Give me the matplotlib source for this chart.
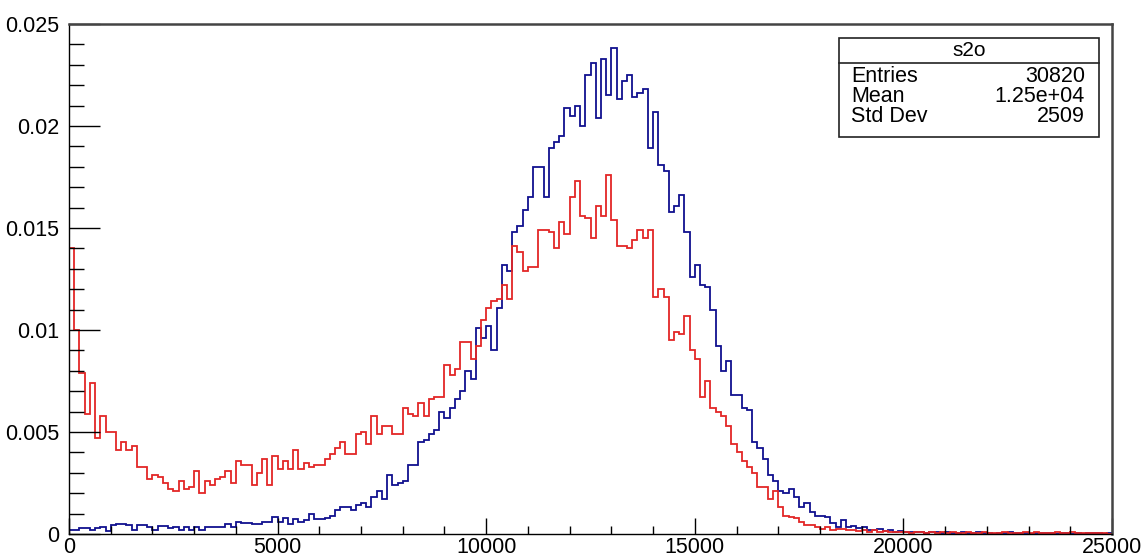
import numpy as np
import matplotlib
matplotlib.use("Agg")
import matplotlib.pyplot as plt
from matplotlib.ticker import MultipleLocator, FixedLocator

plt.rcParams['font.family'] = ['Liberation Sans', 'DejaVu Sans']

# ---- data ----
x_min, x_max, n_bins = 0, 25000, 200

red_values = [
    0.0140, 0.0100, 0.0079, 0.0059, 0.0074, 0.0047, 0.0058, 0.0050, 0.0050, 0.0041,
    0.0045, 0.0041, 0.0043, 0.0033, 0.0033, 0.0027, 0.0029, 0.0028, 0.0025, 0.0022,
    0.0021, 0.0026, 0.0022, 0.0023, 0.0031, 0.0020, 0.0026, 0.0024, 0.0027, 0.0028,
    0.0031, 0.0025, 0.0036, 0.0034, 0.0034, 0.0024, 0.0030, 0.0037, 0.0024, 0.0038,
    0.0032, 0.0036, 0.0032, 0.0041, 0.0032, 0.0035, 0.0033, 0.0034, 0.0034, 0.0037,
    0.0039, 0.0042, 0.0045, 0.0039, 0.0039, 0.0049, 0.0050, 0.0044, 0.0058, 0.0049,
    0.0053, 0.0053, 0.0049, 0.0049, 0.0062, 0.0059, 0.0058, 0.0064, 0.0058, 0.0066,
    0.0067, 0.0067, 0.0083, 0.0078, 0.0081, 0.0094, 0.0094, 0.0086, 0.0092, 0.0105,
    0.0111, 0.0114, 0.0115, 0.0122, 0.0115, 0.0141, 0.0138, 0.0129, 0.0131, 0.0131,
    0.0149, 0.0149, 0.0148, 0.0140, 0.0153, 0.0147, 0.0165, 0.0173, 0.0156, 0.0155,
    0.0145, 0.0161, 0.0156, 0.0176, 0.0154, 0.0141, 0.0141, 0.0140, 0.0144, 0.0149,
    0.0145, 0.0149, 0.0116, 0.0120, 0.0116, 0.0095, 0.0099, 0.0098, 0.0107, 0.0090,
    0.0086, 0.0067, 0.0075, 0.0062, 0.0060, 0.0058, 0.0053, 0.0044, 0.0040, 0.0036,
    0.0033, 0.0030, 0.0023, 0.0023, 0.0017, 0.0021, 0.0013, 0.0009, 0.00085, 0.00077,
    0.0006, 0.00044, 0.00044, 0.00036, 0.00023, 0.00033, 0.0002, 0.00023, 0.00023, 0.0002,
    0.0002, 0.00015, 0.0002, 0.00012, 0.00018, 0.0001, 0.00014, 0.0001, 0.00008, 0.00012,
    0.0001, 0.00006, 0.00008, 0.00012, 0.00006, 0.0001, 0.00004, 0.00008, 0.00006, 0.0001,
    0.00004, 0.00006, 0.00008, 0.00004, 0.00006, 0.00012, 0.00006, 0.00004, 0.00006, 0.00008,
    0.00004, 0.00006, 0.00004, 0.00008, 0.00006, 0.0001, 0.00004, 0.00006, 0.00004, 0.00008,
    0.00006, 0.00004, 0.0001, 0.00006, 0.00004, 0.00006, 0.00004, 0.00006, 0.00004, 0.00002,
]

blue_values = [
    0.0002, 0.0002, 0.00028, 0.00028, 0.0002, 0.00028, 0.00036, 0.00015, 0.00044, 0.00049,
    0.00049, 0.00044, 0.0002, 0.00044, 0.00044, 0.00036, 0.0002, 0.0004, 0.0004, 0.00028,
    0.00036, 0.0002, 0.00032, 0.0002, 0.00032, 0.00018, 0.00032, 0.00032, 0.00032, 0.00032,
    0.00049, 0.00036, 0.0006, 0.00052, 0.00052, 0.00049, 0.00049, 0.0006, 0.0006, 0.00085,
    0.0006, 0.00078, 0.0005, 0.00074, 0.0006, 0.00069, 0.00098, 0.00072, 0.00072, 0.0008,
    0.00088, 0.0012, 0.0013, 0.0013, 0.0012, 0.0014, 0.0015, 0.0013, 0.0018, 0.0021,
    0.0017, 0.0029, 0.0024, 0.0025, 0.0026, 0.0034, 0.0034, 0.0045, 0.0046, 0.0049,
    0.0051, 0.0060, 0.0057, 0.0062, 0.0066, 0.0070, 0.0080, 0.0076, 0.0101, 0.0096,
    0.0102, 0.0090, 0.0111, 0.0132, 0.0129, 0.0148, 0.0151, 0.0159, 0.0165, 0.0180,
    0.0180, 0.0165, 0.0189, 0.0192, 0.0195, 0.0209, 0.0205, 0.0210, 0.0200, 0.0225,
    0.0231, 0.0204, 0.0233, 0.0215, 0.0238, 0.0213, 0.0222, 0.0225, 0.0214, 0.0216,
    0.0218, 0.0189, 0.0207, 0.0181, 0.0178, 0.0158, 0.0161, 0.0166, 0.0148, 0.0126,
    0.0132, 0.0122, 0.0121, 0.0110, 0.0092, 0.0080, 0.0085, 0.0068, 0.0068, 0.0062,
    0.0061, 0.0045, 0.0042, 0.0037, 0.0029, 0.0026, 0.0021, 0.0020, 0.0022, 0.0018,
    0.0013, 0.0015, 0.0011, 0.0009, 0.0009, 0.00085, 0.00055, 0.00036, 0.0007, 0.00036,
    0.0004, 0.0003, 0.00035, 0.0002, 0.0002, 0.00025, 0.00015, 0.0002, 0.0001, 0.00015,
    0.0001, 0.00012, 0.00008, 0.0001, 0.00006, 0.00012, 0.00008, 0.00006, 0.0001, 0.00004,
    0.00006, 0.00008, 0.00004, 0.00006, 0.00008, 0.00004, 0.00006, 0.00002, 0.00006, 0.00004,
    0.00008, 0.00004, 0.00006, 0.00004, 0.00002, 0.00006, 0.00004, 0.00004, 0.00006, 0.00002,
    0.00004, 0.00006, 0.00002, 0.00004, 0.00002, 0.00004, 0.00006, 0.00004, 0.00002, 0.00004,
]

xtick_values = [0, 5000, 10000, 15000, 20000, 25000]
xtick_labels = ["0", "5000", "10000", "15000", "20000", "25000"]
ytick_values = [0, 0.005, 0.01, 0.015, 0.02, 0.025]
ytick_labels = ["0", "0.005", "0.01", "0.015", "0.02", "0.025"]

stats_title = "s2o"
stats_names = ["Entries", "Mean", "Std Dev"]
stats_vals = ["30820", "1.25e+04", "2509"]

# ---- figure ----
W, H = 1142, 556
PT = 0.72  # points per pixel at dpi 100
fig = plt.figure(figsize=(W / 100, H / 100), dpi=100)
ax = fig.add_axes([69 / W, (H - 534) / H, (1112 - 69) / W, (534 - 24) / H])

edges = np.linspace(x_min, x_max, n_bins + 1)
ax.stairs(blue_values, edges, color='#10108f', lw=1.3, baseline=None)
ax.stairs(red_values, edges, color='#e32626', lw=1.3, baseline=None)

ax.set_xlim(x_min, x_max)
ax.set_ylim(0, 0.025)

ax.xaxis.set_major_locator(FixedLocator(xtick_values))
ax.set_xticklabels(xtick_labels)
ax.xaxis.set_minor_locator(MultipleLocator(1000))
ax.yaxis.set_major_locator(FixedLocator(ytick_values))
ax.set_yticklabels(ytick_labels)
ax.yaxis.set_minor_locator(MultipleLocator(0.001))

ax.tick_params(axis='x', which='major', direction='in', length=16 * PT, width=1,
               labelsize=15.5, pad=2, top=False)
ax.tick_params(axis='x', which='minor', direction='in', length=8 * PT, width=1, top=False)
ax.tick_params(axis='y', which='major', direction='in', length=31 * PT, width=1,
               labelsize=15.5, pad=7, right=False)
ax.tick_params(axis='y', which='minor', direction='in', length=15 * PT, width=1, right=False)

for s in ['left', 'bottom']:
    ax.spines[s].set_color('black')
    ax.spines[s].set_linewidth(1.0)
for s in ['top', 'right']:
    ax.spines[s].set_color('#444444')
    ax.spines[s].set_linewidth(1.8)

# ---- stats box ----
bx0, bx1, by0, by1, bsep = 839, 1099, 38, 137, 63
def fx(px):
    return px / W
def fy(py):
    return 1 - py / H

fig.patches.append(plt.Rectangle((fx(bx0), fy(by1)), fx(bx1) - fx(bx0), fy(by0) - fy(by1),
                                 transform=fig.transFigure, facecolor='white',
                                 edgecolor='#222222', lw=1.2, zorder=5))
fig.lines.append(plt.Line2D([fx(bx0), fx(bx1)], [fy(bsep), fy(bsep)],
                            transform=fig.transFigure, color='#222222', lw=1.2, zorder=6))
fig.text(fx((bx0 + bx1) / 2), fy(51), stats_title, ha='center', va='center',
         fontsize=15, zorder=7)
row_y = [77, 96, 116]
for name, val, yy in zip(stats_names, stats_vals, row_y):
    fig.text(fx(851), fy(yy), name, ha='left', va='center', fontsize=15.5, zorder=7)
    fig.text(fx(1085), fy(yy), val, ha='right', va='center', fontsize=15.5, zorder=7)

fig.savefig("out.png", dpi=100, facecolor='white')
